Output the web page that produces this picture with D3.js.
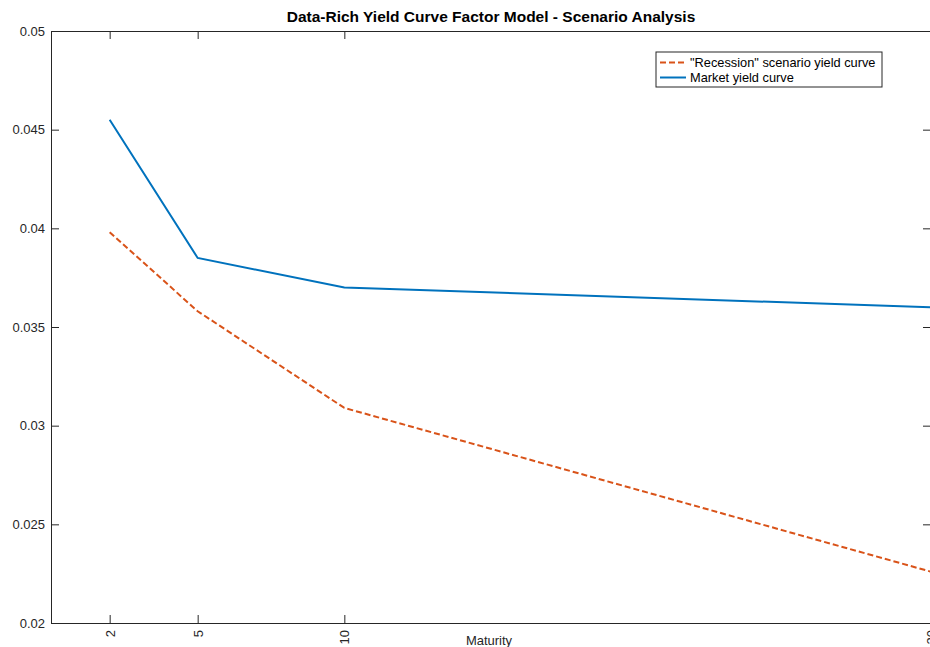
<!DOCTYPE html>
<html>
<head>
<meta charset="utf-8">
<script src="https://cdn.jsdelivr.net/npm/d3@7"></script>
<style>
  html, body { margin: 0; padding: 0; background: #fff; }
  svg { display: block; font-family: "Liberation Sans", Arial, Helvetica, sans-serif; }
</style>
</head>
<body>
<svg id="chart" width="930" height="647"></svg>
<script>
// Maturities (years) and yields for each curve
const maturities = [2, 5, 10, 30];
const recessionYields = [0.0398, 0.0358, 0.0309, 0.0226];
const marketYields = [0.0455, 0.0385, 0.0370, 0.0360];
const yTicks = [0.02, 0.025, 0.03, 0.035, 0.04, 0.045, 0.05];
const seriesNames = ['"Recession" scenario yield curve', 'Market yield curve'];

const svg = d3.select("#chart");
const axisColor = "#262626";
const plot = { left: 51, right: 931, top: 31, bottom: 623 };

const x = d3.scaleLinear().domain([0, 30]).range([plot.left, plot.right]);
const y = d3.scaleLinear().domain([0.02, 0.05]).range([plot.bottom, plot.top]);

// Axes with inward ticks on all four sides
const gLeft = svg.append("g").attr("transform", `translate(${plot.left},0)`)
  .call(d3.axisLeft(y).tickValues(yTicks).tickSizeInner(-8).tickSizeOuter(0).tickPadding(6)
    .tickFormat(d => String(+d.toFixed(3))));
const gRight = svg.append("g").attr("transform", `translate(${plot.right},0)`)
  .call(d3.axisRight(y).tickValues(yTicks).tickSizeInner(-8).tickSizeOuter(0).tickFormat(""));
const gBottom = svg.append("g").attr("transform", `translate(0,${plot.bottom})`)
  .call(d3.axisBottom(x).tickValues(maturities).tickSizeInner(-8).tickSizeOuter(0).tickPadding(7));
const gTop = svg.append("g").attr("transform", `translate(0,${plot.top})`)
  .call(d3.axisTop(x).tickValues(maturities).tickSizeInner(-8).tickSizeOuter(0).tickFormat(""));

[gLeft, gRight, gBottom, gTop].forEach(g => {
  g.select(".domain").attr("stroke", axisColor).attr("stroke-width", 1);
  g.selectAll(".tick line").attr("stroke", axisColor).attr("stroke-width", 1);
  g.selectAll(".tick text").attr("fill", "#262626").attr("font-size", 13)
    .attr("font-family", '"Liberation Sans", Arial, sans-serif');
});

// Rotated maturity labels
gBottom.selectAll(".tick text")
  .attr("text-anchor", "end")
  .attr("transform", "rotate(-90)")
  .attr("x", -7)
  .attr("y", 0)
  .attr("dy", "0.35em");

// Curves
const line = d3.line().x(d => x(d[0])).y(d => y(d[1]));
svg.append("clipPath").attr("id", "plotClip")
  .append("rect")
  .attr("x", plot.left).attr("y", plot.top)
  .attr("width", plot.right - plot.left).attr("height", plot.bottom - plot.top);

svg.append("path")
  .datum(maturities.map((m, i) => [m, recessionYields[i]]))
  .attr("d", line)
  .attr("fill", "none")
  .attr("stroke", "#D95319")
  .attr("stroke-width", 2)
  .attr("stroke-dasharray", "6,3")
  .attr("clip-path", "url(#plotClip)");

svg.append("path")
  .datum(maturities.map((m, i) => [m, marketYields[i]]))
  .attr("d", line)
  .attr("fill", "none")
  .attr("stroke", "#0072BD")
  .attr("stroke-width", 2)
  .attr("clip-path", "url(#plotClip)");

// Title and axis label
svg.append("text")
  .attr("x", (plot.left + plot.right) / 2).attr("y", 22)
  .attr("text-anchor", "middle")
  .attr("font-weight", "bold")
  .attr("font-size", 15.5)
  .attr("fill", "#000")
  .text("Data-Rich Yield Curve Factor Model - Scenario Analysis");

svg.append("text")
  .attr("x", (plot.left + plot.right) / 2 - 2).attr("y", 645)
  .attr("text-anchor", "middle")
  .attr("font-size", 13)
  .attr("fill", "#262626")
  .text("Maturity");

// Legend
const legend = svg.append("g").attr("transform", "translate(656,52)");
legend.append("rect")
  .attr("x", 0).attr("y", 0).attr("width", 226).attr("height", 35)
  .attr("fill", "#fff").attr("stroke", axisColor).attr("stroke-width", 1);
const legendStyles = [
  { color: "#D95319", dash: "6,3" },
  { color: "#0072BD", dash: null }
];
seriesNames.forEach((name, i) => {
  const cy = 10.5 + i * 15;
  legend.append("line")
    .attr("x1", 4).attr("x2", 30).attr("y1", cy).attr("y2", cy)
    .attr("stroke", legendStyles[i].color).attr("stroke-width", 2)
    .attr("stroke-dasharray", legendStyles[i].dash);
  legend.append("text")
    .attr("x", 34).attr("y", cy + 4.5)
    .attr("font-size", 12.8)
    .attr("fill", "#000")
    .text(name);
});
</script>
</body>
</html>
